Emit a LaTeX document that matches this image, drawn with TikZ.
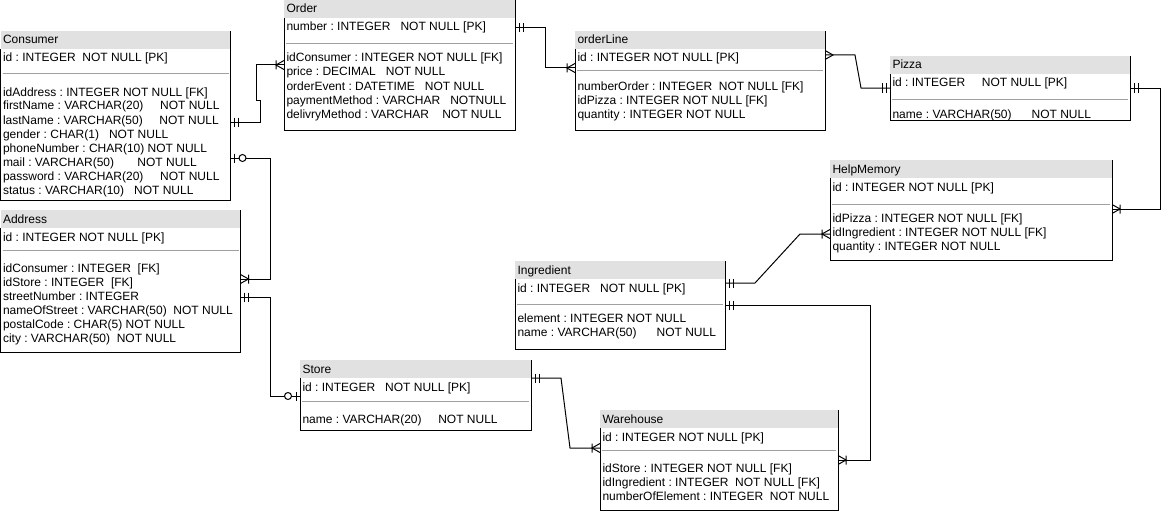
\documentclass[tikz,border=0pt]{standalone}
\usepackage{fontspec}
\setmainfont{Liberation Sans}
\usetikzlibrary{arrows.meta}
\definecolor{erhead}{RGB}{225,225,225}
\definecolor{ersep}{RGB}{160,160,160}

% crow's foot ends
\pgfdeclarearrow{
  name=ERone,
  setup code={\pgfarrowssettipend{0pt}\pgfarrowssetlineend{0pt}\pgfarrowssetbackend{-9pt}%
    \pgfarrowsupperhullpoint{0pt}{5pt}\pgfarrowsupperhullpoint{-9pt}{5pt}},
  drawing code={\pgfsetdash{}{0pt}%
    \pgfpathmoveto{\pgfqpoint{-4pt}{-4.5pt}}\pgfpathlineto{\pgfqpoint{-4pt}{4.5pt}}%
    \pgfpathmoveto{\pgfqpoint{-8pt}{-4.5pt}}\pgfpathlineto{\pgfqpoint{-8pt}{4.5pt}}%
    \pgfusepathqstroke}
}
\pgfdeclarearrow{
  name=ERmany,
  setup code={\pgfarrowssettipend{0pt}\pgfarrowssetlineend{0pt}\pgfarrowssetbackend{-9pt}%
    \pgfarrowsupperhullpoint{0pt}{5pt}\pgfarrowsupperhullpoint{-9pt}{5pt}},
  drawing code={\pgfsetdash{}{0pt}%
    \pgfpathmoveto{\pgfqpoint{0pt}{4.5pt}}\pgfpathlineto{\pgfqpoint{-8pt}{0pt}}%
    \pgfpathlineto{\pgfqpoint{0pt}{-4.5pt}}%
    \pgfusepathqstroke}
}
\pgfdeclarearrow{
  name=ERonemany,
  setup code={\pgfarrowssettipend{0pt}\pgfarrowssetlineend{0pt}\pgfarrowssetbackend{-9pt}%
    \pgfarrowsupperhullpoint{0pt}{5pt}\pgfarrowsupperhullpoint{-9pt}{5pt}},
  drawing code={\pgfsetdash{}{0pt}%
    \pgfpathmoveto{\pgfqpoint{0pt}{4.5pt}}\pgfpathlineto{\pgfqpoint{-8pt}{0pt}}%
    \pgfpathlineto{\pgfqpoint{0pt}{-4.5pt}}%
    \pgfpathmoveto{\pgfqpoint{-8pt}{-4.5pt}}\pgfpathlineto{\pgfqpoint{-8pt}{4.5pt}}%
    \pgfusepathqstroke}
}
\pgfdeclarearrow{
  name=ERzeroone,
  setup code={\pgfarrowssettipend{0pt}\pgfarrowssetlineend{0pt}\pgfarrowssetbackend{-16pt}%
    \pgfarrowsupperhullpoint{0pt}{5pt}\pgfarrowsupperhullpoint{-16pt}{5pt}},
  drawing code={\pgfsetdash{}{0pt}%
    \pgfpathmoveto{\pgfqpoint{-4pt}{-4.5pt}}\pgfpathlineto{\pgfqpoint{-4pt}{4.5pt}}%
    \pgfusepathqstroke
    \pgfsetfillcolor{white}%
    \pgfpathcircle{\pgfqpoint{-12pt}{0pt}}{3.5pt}%
    \pgfusepathqfillstroke}
}

\begin{document}
\begin{tikzpicture}[x=1pt,y=-1pt,line width=1pt,
  entity/.style={anchor=north west,inner sep=0pt,outer sep=0pt,
    path picture={\fill[erhead] (path picture bounding box.north west)
      rectangle ([yshift=-18pt]path picture bounding box.north east);}},
  rowtext/.style={anchor=base west,inner sep=0pt,font=\fontsize{12}{14}\selectfont\frenchspacing},
  sepline/.style={ersep,line width=1pt}]
  \useasboundingbox (0,0) rectangle (1170,511);

  % tables
  \node[entity,minimum width=230pt,minimum height=169pt] (consumer) at (0.5,31) {};
  \node[entity,minimum width=240pt,minimum height=142pt] (address) at (0.5,210) {};
  \node[entity,minimum width=231pt,minimum height=130pt] (order) at (284,0) {};
  \node[entity,minimum width=250pt,minimum height=99pt] (orderLine) at (575,31) {};
  \node[entity,minimum width=240pt,minimum height=64pt] (pizza) at (890,56) {};
  \node[entity,minimum width=282pt,minimum height=100pt] (helpMemory) at (830,160) {};
  \node[entity,minimum width=210pt,minimum height=88pt] (ingredient) at (515,261) {};
  \node[entity,minimum width=231pt,minimum height=70pt] (store) at (300,360) {};
  \node[entity,minimum width=238pt,minimum height=100pt] (warehouse) at (600,410) {};

  \foreach \e in {consumer,address,order,orderLine,pizza,helpMemory,ingredient,store,warehouse}
    \draw (\e.north east) |- (\e.south west) -- ([yshift=-18pt]\e.north west);
  \foreach \e/\s in {consumer/-43pt,address/-40pt,order/-44pt,orderLine/-40pt,pizza/-43pt,
                     helpMemory/-44pt,ingredient/-43pt,store/-41pt,warehouse/-40pt}
    \draw[sepline] ([xshift=2pt,yshift=\s]\e.north west) -- ([xshift=-2pt,yshift=\s]\e.north east);

  % Consumer
  \node[rowtext] (consumerT) at ([xshift=2pt,yshift=-13pt]consumer.north west) {Consumer};
  \node[rowtext] (consumerK) at ([xshift=2pt,yshift=-31pt]consumer.north west) {id : INTEGER\ \ NOT NULL [PK]};
  \foreach \t [count=\i from 0] in {idAddress : INTEGER NOT NULL [FK],
      firstName : VARCHAR(20)\ \ \ \ \ NOT NULL, lastName : VARCHAR(50)\ \ \ \ \ NOT NULL,
      gender : CHAR(1)\ \ \ NOT NULL, phoneNumber : CHAR(10) NOT NULL,
      mail : VARCHAR(50)\ \ \ \ \ \ \ NOT NULL, password : VARCHAR(20)\ \ \ \ \ NOT NULL,
      status : VARCHAR(10)\ \ \ NOT NULL}
    \node[rowtext] (consumerF\i) at ([xshift=2pt,yshift=-65pt-14pt*\i]consumer.north west) {\t};

  % Address
  \node[rowtext] (addressT) at ([xshift=2pt,yshift=-13pt]address.north west) {Address};
  \node[rowtext] (addressK) at ([xshift=2pt,yshift=-31pt]address.north west) {id : INTEGER NOT NULL [PK]};
  \foreach \t [count=\i from 0] in {idConsumer : INTEGER\ \ [FK], idStore : INTEGER\ \ [FK],
      streetNumber : INTEGER, nameOfStreet : VARCHAR(50)\ \ NOT NULL,
      postalCode : CHAR(5) NOT NULL, city : VARCHAR(50)\ \ NOT NULL}
    \node[rowtext] (addressF\i) at ([xshift=2pt,yshift=-62pt-14pt*\i]address.north west) {\t};

  % Order
  \node[rowtext] (orderT) at ([xshift=2pt,yshift=-13pt]order.north west) {Order};
  \node[rowtext] (orderK) at ([xshift=2pt,yshift=-31pt]order.north west) {number : INTEGER\ \ \ NOT NULL [PK]};
  \foreach \t [count=\i from 0] in {idConsumer : INTEGER NOT NULL [FK],
      price : DECIMAL\ \ \ NOT NULL, orderEvent : DATETIME\ \ \ NOT NULL,
      paymentMethod : VARCHAR\ \ \ NOTNULL, delivryMethod : VARCHAR\ \ \ \ NOT NULL}
    \node[rowtext] (orderF\i) at ([xshift=2pt,yshift=-62pt-14pt*\i]order.north west) {\t};

  % orderLine
  \node[rowtext] (orderLineT) at ([xshift=2pt,yshift=-13pt]orderLine.north west) {orderLine};
  \node[rowtext] (orderLineK) at ([xshift=2pt,yshift=-31pt]orderLine.north west) {id : INTEGER NOT NULL [PK]};
  \foreach \t [count=\i from 0] in {numberOrder : INTEGER\ \ NOT NULL [FK],
      idPizza : INTEGER NOT NULL [FK], quantity : INTEGER NOT NULL}
    \node[rowtext] (orderLineF\i) at ([xshift=2pt,yshift=-59pt-14pt*\i]orderLine.north west) {\t};

  % Pizza
  \node[rowtext] (pizzaT) at ([xshift=2pt,yshift=-13pt]pizza.north west) {Pizza};
  \node[rowtext] (pizzaK) at ([xshift=2pt,yshift=-30pt]pizza.north west) {id : INTEGER\ \ \ \ \ NOT NULL [PK]};
  \node[rowtext] (pizzaF0) at ([xshift=2pt,yshift=-62pt]pizza.north west) {name : VARCHAR(50)\ \ \ \ \ \ NOT NULL};

  % HelpMemory
  \node[rowtext] (helpMemoryT) at ([xshift=2pt,yshift=-13pt]helpMemory.north west) {HelpMemory};
  \node[rowtext] (helpMemoryK) at ([xshift=2pt,yshift=-31pt]helpMemory.north west) {id : INTEGER NOT NULL [PK]};
  \foreach \t [count=\i from 0] in {idPizza : INTEGER NOT NULL [FK],
      idIngredient : INTEGER NOT NULL [FK], quantity : INTEGER NOT NULL}
    \node[rowtext] (helpMemoryF\i) at ([xshift=2pt,yshift=-62pt-14pt*\i]helpMemory.north west) {\t};

  % Ingredient
  \node[rowtext] (ingredientT) at ([xshift=2pt,yshift=-13pt]ingredient.north west) {Ingredient};
  \node[rowtext] (ingredientK) at ([xshift=2pt,yshift=-31pt]ingredient.north west) {id : INTEGER\ \ \ NOT NULL [PK]};
  \foreach \t [count=\i from 0] in {element : INTEGER NOT NULL,
      name : VARCHAR(50)\ \ \ \ \ \ NOT NULL}
    \node[rowtext] (ingredientF\i) at ([xshift=2pt,yshift=-61pt-14pt*\i]ingredient.north west) {\t};

  % Store
  \node[rowtext] (storeT) at ([xshift=2pt,yshift=-13pt]store.north west) {Store};
  \node[rowtext] (storeK) at ([xshift=2pt,yshift=-31pt]store.north west) {id : INTEGER\ \ \ NOT NULL [PK]};
  \node[rowtext] (storeF0) at ([xshift=2pt,yshift=-63pt]store.north west) {name : VARCHAR(20)\ \ \ \ \ NOT NULL};

  % Warehouse
  \node[rowtext] (warehouseT) at ([xshift=2pt,yshift=-13pt]warehouse.north west) {Warehouse};
  \node[rowtext] (warehouseK) at ([xshift=2pt,yshift=-31pt]warehouse.north west) {id : INTEGER NOT NULL [PK]};
  \foreach \t [count=\i from 0] in {idStore : INTEGER NOT NULL [FK],
      idIngredient : INTEGER\ \ NOT NULL [FK], numberOfElement : INTEGER\ \ NOT NULL}
    \node[rowtext] (warehouseF\i) at ([xshift=2pt,yshift=-62pt-14pt*\i]warehouse.north west) {\t};

  % relations
  \draw[{ERone}-{ERonemany}] ([yshift=-91pt]consumer.north east) -- ++(30,0) |- ++(-4,-22)
    |- ([yshift=-65pt]order.north west);
  \draw[{ERzeroone}-{ERonemany}] ([yshift=-127pt]consumer.north east) -- ++(40,0)
    |- ([yshift=-69pt]address.north east);
  \draw[{ERone}-{ERzeroone}] ([yshift=-87pt]address.north east) -- ++(30,0)
    |- ([yshift=-36pt]store.north west);
  \draw[{ERone}-{ERonemany}] ([yshift=-28pt]order.north east) -- ++(30,0)
    |- ([yshift=-37pt]orderLine.north west);
  \draw[{ERmany}-{ERone}] ([yshift=-24pt]orderLine.north east) -- ++(30,0)
    -- ([xshift=-29pt,yshift=-32pt]pizza.north west) -- ([yshift=-32pt]pizza.north west);
  \draw[{ERone}-{ERonemany}] ([yshift=-32pt]pizza.north east) -- ++(30,0)
    |- ([yshift=-49pt]helpMemory.north east);
  \draw[{ERone}-{ERonemany}] ([yshift=-22pt]ingredient.north east) -- ++(30,0)
    -- ([xshift=-30pt,yshift=-74pt]helpMemory.north west) -- ([yshift=-74pt]helpMemory.north west);
  \draw[{ERone}-{ERonemany}] ([yshift=-44pt]ingredient.north east)
    -| ([xshift=32pt,yshift=-50pt]warehouse.north east) -- ([yshift=-50pt]warehouse.north east);
  \draw[{ERone}-{ERonemany}] ([yshift=-18pt]store.north east) -- ++(30,0)
    -- ([xshift=-30pt,yshift=-38pt]warehouse.north west) -- ([yshift=-38pt]warehouse.north west);
\end{tikzpicture}
\end{document}
